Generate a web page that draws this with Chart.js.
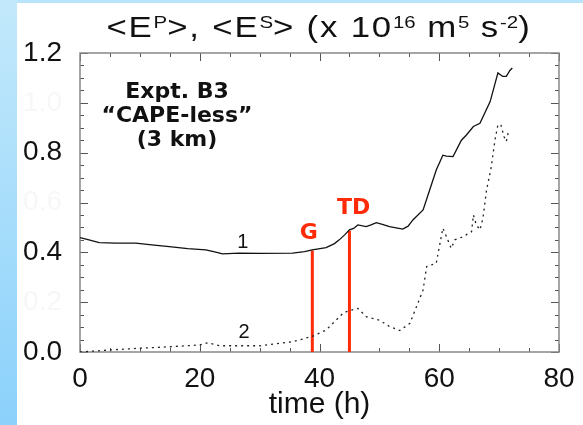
<!DOCTYPE html>
<html>
<head>
<meta charset="utf-8">
<script src="https://cdn.jsdelivr.net/npm/chart.js@4.4.1/dist/chart.umd.min.js"></script>
<style>
  html, body { margin: 0; padding: 0; }
  body { width: 583px; height: 425px; position: relative; overflow: hidden; background: #b9e5fa; }
  #strip { position: absolute; left: 0; top: 0; width: 17px; height: 425px; background: linear-gradient(#c3e9fb, #8bd1fb); }
  #panel { position: absolute; left: 17px; top: 3px; width: 566px; height: 422px; background: #fff; }
  #wrap { position: absolute; left: 0; top: 0; width: 583px; height: 425px; }
  #title { position: absolute; left: 319px; top: 12px; transform: translateX(-50%) scaleX(1.2); white-space: nowrap;
    font: 29px "Liberation Sans", Arial, sans-serif; color: #111; line-height: 30px; letter-spacing: 1.5px; }
  #title sup { font-size: 17px; vertical-align: 9px; line-height: 0; letter-spacing: 0; }
</style>
</head>
<body>
<div id="strip"></div>
<div id="panel"></div>
<div id="wrap"><canvas id="chart" width="583" height="425"></canvas></div>
<div id="title">&lt;E<sup>P</sup>&gt;, &lt;E<sup>S</sup>&gt; (x 10<sup>16</sup> m<sup>5</sup> s<sup>-2</sup>)</div>
<script>
// curve 1: <E^P>
const times1 = [0, 1.5, 3.2, 6, 9.3, 12, 14.9, 18, 21, 22.5, 23.8, 26.6, 30, 35.5, 37.5, 38.8, 41.1, 42.5, 43.3, 44.2,
  45, 45.7, 46.4, 47.8, 48.6, 49.5, 50.5, 51.7, 53.9, 54.8, 55.6, 57.3, 58.4, 59.5, 60.6, 61.2, 62.3, 63.7, 64.5,
  65.7, 66.8, 68.5, 69.8, 70.6, 71.2, 71.8, 72.2];
const values1 = [0.459, 0.45, 0.439, 0.437, 0.437, 0.43, 0.423, 0.415, 0.41, 0.402, 0.394, 0.397, 0.396, 0.397, 0.403,
  0.41, 0.419, 0.435, 0.45, 0.47, 0.49, 0.496, 0.51, 0.503, 0.51, 0.519, 0.512, 0.503, 0.493, 0.505, 0.53, 0.57,
  0.65, 0.73, 0.79, 0.786, 0.784, 0.85, 0.87, 0.905, 0.918, 1.005, 1.12, 1.106, 1.106, 1.13, 1.14];

// curve 2: <E^S>
const times2 = [0, 4.9, 9.9, 14.9, 19.9, 21.3, 23.3, 30, 35.5, 38.8, 41.1, 43.9, 44.5, 46.4, 47.8, 50, 51.7, 53.4,
  55.1, 56.2, 57.3, 57.9, 59.5, 60.6, 61.2, 62, 62.6, 64, 65.4, 65.7, 66.2, 66.8, 67.3, 67.9, 68.7, 69.3, 69.8,
  70.3, 70.8, 71.2, 71.5, 71.9];
const values2 = [0, 0.008, 0.015, 0.021, 0.028, 0.037, 0.025, 0.025, 0.041, 0.063, 0.088, 0.155, 0.162, 0.175, 0.142,
  0.128, 0.102, 0.086, 0.115, 0.182, 0.249, 0.343, 0.356, 0.497, 0.463, 0.416, 0.45, 0.463, 0.483, 0.55, 0.51,
  0.49, 0.537, 0.65, 0.744, 0.85, 0.912, 0.912, 0.865, 0.845, 0.878, 0.885];

// event markers (time, value at top of marker)
const eventNames = ['G', 'TD'];
const eventTimes = [38.8, 45.0];
const eventTops = [0.407, 0.487];

const xTickLabels = ['0', '20', '40', '60', '80'];
const yTickLabels = ['0.0', '0.4', '0.8', '1.2'];
const yFaintLabels = ['0.2', '0.6', '1.0'];

const RED = '#ff2a08';
const FONT = '"Liberation Sans", Arial, sans-serif';

const toPoints = (xs, ys) => xs.map((x, i) => ({ x, y: ys[i] }));

// inward ticks on all four sides plus the frame, and the text notes
const frameTicks = {
  id: 'frameTicks',
  beforeDatasetsDraw(chart) {
    const { ctx, chartArea: a } = chart;
    const xs = chart.scales.x;
    const ys = chart.scales.y;
    ctx.save();
    ctx.strokeStyle = '#555';
    ctx.lineWidth = 1;
    ctx.beginPath();
    for (const t of xs.ticks) {
      const px = Math.round(xs.getPixelForValue(t.value)) + 0.5;
      const len = t.value % 20 === 0 ? 8 : 4;
      ctx.moveTo(px, a.bottom); ctx.lineTo(px, a.bottom - len);
      ctx.moveTo(px, a.top); ctx.lineTo(px, a.top + len);
    }
    for (const t of ys.ticks) {
      const py = Math.round(ys.getPixelForValue(t.value)) + 0.5;
      const len = Math.round(t.value * 100) % 20 === 0 ? 8 : 4;
      ctx.moveTo(a.left, py); ctx.lineTo(a.left + len, py);
      ctx.moveTo(a.right, py); ctx.lineTo(a.right - len, py);
    }
    ctx.stroke();
    ctx.strokeStyle = '#888';
    ctx.lineWidth = 1.5;
    ctx.strokeRect(a.left, a.top, a.right - a.left, a.bottom - a.top);
    ctx.restore();
  },
  afterDatasetsDraw(chart) {
    const { ctx } = chart;
    const xs = chart.scales.x;
    const ys = chart.scales.y;
    const put = (text, x, y, font, color) => {
      ctx.font = font;
      ctx.fillStyle = color;
      ctx.fillText(text, xs.getPixelForValue(x), ys.getPixelForValue(y));
    };
    ctx.save();
    ctx.textAlign = 'center';
    ctx.textBaseline = 'middle';
    const boldFont = 'bold 22px "DejaVu Sans", Verdana, sans-serif';
    put('Expt. B3', 16.2, 1.041, boldFont, '#111');
    put('\u201CCAPE-less\u201D', 16.2, 0.945, boldFont, '#111');
    put('(3 km)', 16.2, 0.851, boldFont, '#111');
    put('1', 27.2, 0.441, '20px ' + FONT, '#111');
    put('2', 27.4, 0.08, '20px ' + FONT, '#111');
    put(eventNames[0], 38.2, 0.478, 'bold 22px "DejaVu Sans", Verdana, sans-serif', RED);
    put(eventNames[1], 45.7, 0.578, 'bold 22px "DejaVu Sans", Verdana, sans-serif', RED);
    ctx.restore();
  }
};

const eventSets = eventTimes.map((t, i) => ({
  label: eventNames[i],
  data: [{ x: t, y: 0 }, { x: t, y: eventTops[i] }],
  borderColor: RED,
  borderWidth: 3,
  pointRadius: 0,
  borderCapStyle: 'butt'
}));

new Chart(document.getElementById('chart'), {
  type: 'line',
  data: {
    datasets: [
      {
        label: '<E^P>',
        data: toPoints(times1, values1),
        borderColor: '#111',
        borderWidth: 1.3,
        pointRadius: 0,
        tension: 0
      },
      {
        label: '<E^S>',
        data: toPoints(times2, values2),
        borderColor: '#222',
        borderWidth: 1.3,
        borderDash: [2, 4],
        pointRadius: 0,
        tension: 0
      },
      ...eventSets
    ]
  },
  options: {
    responsive: false,
    animation: false,
    layout: { padding: { top: 53, right: 24, left: 0, bottom: 0 } },
    plugins: { legend: { display: false }, tooltip: { enabled: false } },
    scales: {
      x: {
        type: 'linear',
        min: 0,
        max: 80,
        afterFit(scale) { scale.height = 73; },
        grid: { display: false },
        border: { display: false },
        ticks: {
          stepSize: 5,
          autoSkip: false,
          maxRotation: 0,
          padding: 2,
          color: '#111',
          font: { family: FONT, size: 28 },
          callback: (v) => (xTickLabels.includes(String(v)) ? String(v) : '')
        },
        title: {
          display: true,
          text: 'time (h)',
          color: '#111',
          padding: { top: 0, bottom: 2 },
          font: { family: FONT, size: 30 }
        }
      },
      y: {
        min: 0,
        max: 1.2,
        afterFit(scale) { scale.width = 80; },
        grid: { display: false },
        border: { display: false },
        ticks: {
          stepSize: 0.05,
          autoSkip: false,
          padding: 10,
          color: (c) => (yTickLabels.includes(Number(c.tick.value).toFixed(1)) ? '#111' : '#f7f7f7'),
          font: { family: FONT, size: 28 },
          callback: (v) => {
            const s = Number(v).toFixed(1);
            if (Math.round(v * 100) % 20 !== 0) return '';
            return yTickLabels.includes(s) || yFaintLabels.includes(s) ? s : '';
          }
        }
      }
    }
  },
  plugins: [frameTicks]
});
</script>
</body>
</html>
